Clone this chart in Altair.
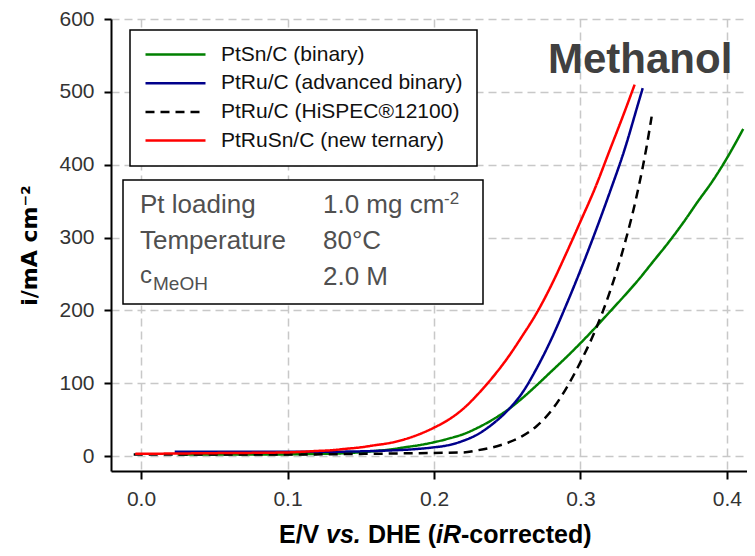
import altair as alt
import pandas as pd

# ---- data ----
series_names = [
    "PtSn/C (binary)",
    "PtRu/C (advanced binary)",
    "PtRu/C (HiSPEC\u00ae12100)",
    "PtRuSn/C (new ternary)",
]
series_colors = ["#008000", "#00008b", "#000000", "#ff0000"]
series_dash = [[1, 0], [1, 0], [9, 6], [1, 0]]

green_x = [0.025, 0.08, 0.12, 0.14, 0.16, 0.17, 0.18, 0.19, 0.20, 0.21, 0.22, 0.23, 0.24,
           0.25, 0.26, 0.27, 0.28, 0.29, 0.30, 0.31, 0.32, 0.33, 0.34, 0.35, 0.36, 0.37,
           0.38, 0.39, 0.40, 0.4111]
green_y = [2, 2, 3, 4, 7, 9, 12, 15, 19, 24, 30, 39, 50, 63, 79, 97, 116, 135, 155, 176,
           198, 220, 243, 268, 293, 320, 349, 377, 409, 449]

blue_x = [0.023, 0.08, 0.13, 0.16, 0.19, 0.20, 0.21, 0.22, 0.23, 0.24, 0.25, 0.26, 0.27,
          0.28, 0.29, 0.30, 0.31, 0.32, 0.33, 0.34, 0.3425]
blue_y = [6, 6, 6, 7, 10, 12, 15, 21, 30, 44, 62, 86, 120, 160, 206, 255, 307, 362, 420,
          488, 505]

black_x = [-0.005, 0.05, 0.1, 0.15, 0.19, 0.22, 0.23, 0.24, 0.25, 0.26, 0.27, 0.28, 0.29,
           0.30, 0.31, 0.32, 0.33, 0.34, 0.345, 0.3486]
black_y = [2, 2, 2, 3, 4, 5, 8, 12, 18, 27, 41, 62, 92, 129, 172, 225, 290, 372, 423, 466]

red_x = [-0.004, 0.05, 0.10, 0.12, 0.13, 0.14, 0.15, 0.16, 0.17, 0.18, 0.19, 0.20, 0.21,
         0.22, 0.23, 0.24, 0.25, 0.26, 0.27, 0.28, 0.29, 0.30, 0.31, 0.32, 0.33, 0.337]
red_y = [3, 4, 5, 7, 8, 10, 12, 15, 18, 23, 30, 39, 50, 65, 85, 108, 134, 164, 196, 234,
         277, 322, 368, 420, 472, 510]

x_ticks = [0.0, 0.1, 0.2, 0.3, 0.4]
y_ticks = [0, 100, 200, 300, 400, 500, 600]

info_labels = ["Pt loading", "Temperature"]
info_values = ["1.0 mg cm", "80\u00b0C", "2.0 M"]

# ---- build table ----
rows = []
for name, xs, ys in zip(series_names, [green_x, blue_x, black_x, red_x],
                        [green_y, blue_y, black_y, red_y]):
    for i, (xv, yv) in enumerate(zip(xs, ys)):
        rows.append({"series": name, "E": xv, "I": yv, "i": i})
df = pd.DataFrame(rows)

W, H = 636, 452
FONT = "Liberation Sans"

lines = alt.Chart(df).mark_line(strokeWidth=2.5, interpolate="monotone", clip=True).encode(
    x=alt.X("E:Q", scale=alt.Scale(domain=[-0.0205, 0.4137], nice=False, zero=False),
            axis=alt.Axis(values=x_ticks, format=".1f", title=None, tickSize=8,
                          labelPadding=9)),
    y=alt.Y("I:Q", scale=alt.Scale(domain=[-20.5, 600], nice=False, zero=False),
            axis=alt.Axis(values=y_ticks, title="i/mA cm\u207b\u00b2", tickSize=7,
                          labelPadding=10, titlePadding=17, titleFont="DejaVu Sans",
                          titleFontSize=22, titleFontWeight="bold", titleColor="#000")),
    color=alt.Color("series:N", scale=alt.Scale(domain=series_names, range=series_colors),
                    legend=alt.Legend(title=None)),
    strokeDash=alt.StrokeDash("series:N",
                              scale=alt.Scale(domain=series_names, range=series_dash),
                              legend=alt.Legend(title=None)),
    order="i:Q",
)

one = pd.DataFrame({"a": [0]})


def txt(text, x, y, size, weight="normal", color="#000", style="normal", baseline="alphabetic"):
    return alt.Chart(one).mark_text(
        text=text, font=FONT, fontSize=size, fontWeight=weight, color=color,
        fontStyle=style, align="left", baseline=baseline,
    ).encode(x=alt.value(x), y=alt.value(y))


# info box
info_box = alt.Chart(one).mark_rect(fill="white", stroke="black", strokeWidth=1.5).encode(
    x=alt.value(12), x2=alt.value(372), y=alt.value(161), y2=alt.value(285))

ic = "#505050"
info_texts = [
    txt(info_labels[0], 29, 194, 26, color=ic),
    txt(info_labels[1], 29, 230, 26, color=ic),
    txt("c", 29, 264, 24, color=ic),
    txt("MeOH", 42, 271, 19, color=ic),
    txt(info_values[0], 212, 194, 26, color=ic),
    txt("-2", 333, 185, 17, color=ic),
    txt(info_values[1], 212, 230, 26, color=ic),
    txt(info_values[2], 212, 266, 26, color=ic),
]

# x-axis title with italic parts
xt_y = 524
xtitle = [
    txt("E/V", 168, xt_y, 25, weight="bold"),
    txt("vs.", 215, xt_y, 25, weight="bold", style="italic"),
    txt("DHE (", 257, xt_y, 25, weight="bold"),
    txt("iR", 325, xt_y, 25, weight="bold", style="italic"),
    txt("-corrected)", 350, xt_y, 25, weight="bold"),
]

methanol = txt("Methanol", 437, 54, 42, weight="bold", color="#404040")

chart = alt.layer(lines, info_box, *info_texts, *xtitle, methanol).properties(
    width=W, height=H,
    autosize=alt.AutoSizeParams(type="none"),
    padding={"left": 103, "top": 11, "right": 0, "bottom": 77},
).configure_view(stroke=None).configure_axis(
    domainColor="black", domainWidth=2, tickColor="black", tickWidth=2,
    labelFont=FONT, labelFontSize=21, labelColor="#333",
    gridColor="#c8c8c8", gridDash=[8, 5], gridWidth=1.5,
).configure_legend(
    orient="none", legendX=19, legendY=11, strokeColor="black", strokeWidth=1.5,
    fillColor="white", padding=14, labelFont=FONT, labelFontSize=21, labelColor="#111",
    symbolType="stroke", symbolSize=3600, symbolStrokeWidth=2.5, clipHeight=21,
    rowPadding=6.7, labelOffset=14, labelLimit=400,
)

chart.save("out.html", embed_options={"renderer": "svg", "actions": False})
